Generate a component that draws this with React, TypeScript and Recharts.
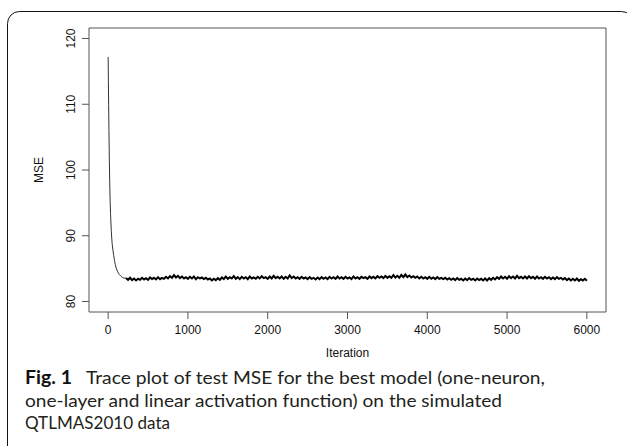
import { LineChart, Line, XAxis, YAxis, ReferenceArea } from 'recharts'

// burn-in part of the trace (iteration, test MSE)
const decayIter = [0, 3, 6, 10, 15, 20, 25, 30, 40, 50, 60, 70, 80, 90, 100, 120, 140, 160, 180, 200, 225]
const decayMse = [
  117.2, 113.5, 110, 106, 101.5, 98, 95.3, 93.4, 90.6, 88.8, 87.8, 87.0, 86.2, 85.6, 85.1, 84.5,
  84.1, 83.85, 83.65, 83.55, 83.55,
]

// stationary part, one value every 25 iterations from 225 to 6000
const traceStart = 225
const traceStep = 25
const traceMse = [
  83.55, 83.3, 83.6, 83.25, 83.5, 83.2, 83.45, 83.3, 83.6, 83.35, 83.55, 83.3, 83.65, 83.4, 83.6, 83.35, 83.7, 83.4, 83.6, 83.45,
  83.75, 83.5, 83.85, 83.6, 84.0, 83.65, 83.9, 83.55, 83.8, 83.5, 83.7, 83.45, 83.75, 83.5, 83.8, 83.4, 83.7, 83.5, 83.65, 83.4,
  83.6, 83.35, 83.5, 83.2, 83.45, 83.25, 83.55, 83.3, 83.65, 83.4, 83.8, 83.45, 83.7, 83.5, 83.85, 83.45, 83.7, 83.4, 83.75, 83.5,
  83.7, 83.4, 83.8, 83.5, 83.65, 83.45, 83.75, 83.5, 83.85, 83.55, 83.7, 83.45, 83.8, 83.5, 83.9, 83.55, 83.75, 83.5, 83.8, 83.45,
  83.75, 83.5, 83.95, 83.55, 83.8, 83.5, 83.7, 83.45, 83.75, 83.5, 83.65, 83.4, 83.7, 83.45, 83.6, 83.35, 83.65, 83.4, 83.7, 83.45,
  83.65, 83.4, 83.75, 83.5, 83.7, 83.45, 83.8, 83.5, 83.7, 83.45, 83.75, 83.5, 83.65, 83.4, 83.8, 83.5, 83.7, 83.45, 83.75, 83.55,
  83.7, 83.45, 83.8, 83.55, 83.75, 83.5, 83.85, 83.6, 83.8, 83.55, 83.9, 83.6, 83.85, 83.6, 84.0, 83.65, 83.9, 83.6, 84.05, 83.7,
  84.1, 83.7, 83.95, 83.65, 83.85, 83.6, 83.8, 83.5, 83.75, 83.5, 83.7, 83.45, 83.75, 83.45, 83.65, 83.4, 83.7, 83.45, 83.6, 83.4,
  83.6, 83.35, 83.55, 83.3, 83.5, 83.25, 83.55, 83.3, 83.45, 83.2, 83.5, 83.25, 83.55, 83.3, 83.45, 83.2, 83.5, 83.25, 83.45, 83.2,
  83.5, 83.2, 83.55, 83.3, 83.6, 83.35, 83.7, 83.45, 83.8, 83.5, 83.75, 83.45, 83.85, 83.55, 83.8, 83.5, 83.9, 83.55, 83.75, 83.5,
  83.8, 83.5, 83.85, 83.55, 83.75, 83.45, 83.8, 83.5, 83.7, 83.45, 83.75, 83.5, 83.7, 83.4, 83.65, 83.4, 83.7, 83.45, 83.6, 83.35,
  83.55, 83.25, 83.5, 83.2, 83.45, 83.2, 83.5, 83.15, 83.4, 83.2, 83.45, 83.15,
]

const xTicks = [0, 1000, 2000, 3000, 4000, 5000, 6000]
const yTicks = [80, 90, 100, 110, 120]

const data = [
  ...decayIter.slice(0, -1).map((iter, i) => ({ iter, burn: decayMse[i] })),
  ...traceMse.map((mse, i) => ({
    iter: traceStart + i * traceStep,
    trace: mse,
    burn: i === 0 ? decayMse[decayMse.length - 1] : undefined,
  })),
]

const X_DOMAIN: [number, number] = [-240, 6240]
const Y_DOMAIN: [number, number] = [78.4, 121.6]
const AXIS_FONT = '"Liberation Sans", Arial, Helvetica, sans-serif'
const CAPTION_FONT = 'Lato, "Open Sans", sans-serif'

const XTick = ({ x, payload }: any) => (
  <text x={x} y={334} textAnchor="middle" fontSize={12} fontFamily={AXIS_FONT} fill="#111">
    {payload.value}
  </text>
)

const YTick = ({ y, payload }: any) => (
  <text
    x={75}
    y={y}
    transform={`rotate(-90, 75, ${y})`}
    textAnchor="middle"
    fontSize={12}
    fontFamily={AXIS_FONT}
    fill="#111"
  >
    {payload.value}
  </text>
)

export default function App() {
  return (
    <div style={{ position: 'absolute', left: 0, top: 0, width: 627, height: 446, background: '#fff', overflow: 'hidden' }}>
      <LineChart
        width={627}
        height={446}
        data={data}
        margin={{ top: 28, right: 21, bottom: 104, left: 29 }}
      >
        <XAxis
          dataKey="iter"
          type="number"
          domain={X_DOMAIN}
          ticks={xTicks}
          allowDataOverflow
          axisLine={false}
          tickSize={7}
          tickLine={{ stroke: '#555' }}
          tick={<XTick />}
          height={30}
        />
        <YAxis
          type="number"
          domain={Y_DOMAIN}
          ticks={yTicks}
          allowDataOverflow
          axisLine={false}
          tickSize={7}
          tickLine={{ stroke: '#555' }}
          tick={<YTick />}
          width={60}
        />
        <ReferenceArea
          x1={X_DOMAIN[0]}
          x2={X_DOMAIN[1]}
          y1={Y_DOMAIN[0]}
          y2={Y_DOMAIN[1]}
          fill="none"
          stroke="#555"
          strokeWidth={1}
        />
        <Line
          type="linear"
          dataKey="burn"
          stroke="#333"
          strokeWidth={1}
          dot={false}
          connectNulls={false}
          isAnimationActive={false}
        />
        <Line
          type="linear"
          dataKey="trace"
          stroke="#000"
          strokeWidth={2}
          dot={false}
          isAnimationActive={false}
        />
      </LineChart>
      <svg width={627} height={446} style={{ position: 'absolute', left: 0, top: 0, pointerEvents: 'none' }}>
        <rect x={7.5} y={11.5} width={626} height={450} rx={12} fill="none" stroke="#111" strokeWidth={1} />
        <text x={43} y={170} transform="rotate(-90, 43, 170)" textAnchor="middle" fontSize={12} fontFamily={AXIS_FONT} fill="#111">
          MSE
        </text>
        <text x={347.5} y={356.5} textAnchor="middle" fontSize={12} fontFamily={AXIS_FONT} fill="#111">
          Iteration
        </text>
        <g fontFamily={CAPTION_FONT} fontSize={18} fill="#231f20">
          <text x={25} y={384} fontWeight="bold" fill="#111" textLength={47} lengthAdjust="spacingAndGlyphs">
            Fig. 1
          </text>
          <text x={86} y={384} textLength={459} lengthAdjust="spacingAndGlyphs">
            Trace plot of test MSE for the best model (one-neuron,
          </text>
          <text x={25} y={406.5} textLength={477} lengthAdjust="spacingAndGlyphs">
            one-layer and linear activation function) on the simulated
          </text>
          <text x={25} y={429} textLength={145} lengthAdjust="spacingAndGlyphs">
            QTLMAS2010 data
          </text>
        </g>
      </svg>
    </div>
  )
}
